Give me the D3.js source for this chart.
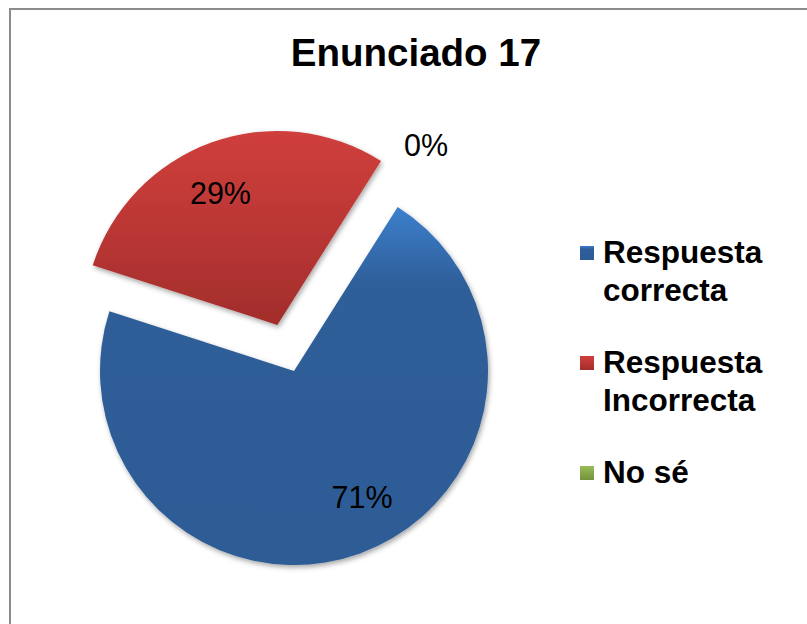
<!DOCTYPE html>
<html>
<head>
<meta charset="utf-8">
<script src="https://cdn.jsdelivr.net/npm/d3@7"></script>
<style>
  html, body { margin: 0; padding: 0; background: #fff; }
  svg { display: block; }
  text { font-family: "Liberation Sans", Arial, sans-serif; fill: #000; }
</style>
</head>
<body>
<svg id="chart" width="807" height="624"></svg>
<script>
// ---- data ----
const title = "Enunciado 17";
const categories = ["Respuesta correcta", "Respuesta Incorrecta", "No sé"];
const legendLines = [["Respuesta", "correcta"], ["Respuesta", "Incorrecta"], ["No sé"]];
const values = [71, 29, 0];
const labels = ["71%", "29%", "0%"];
const exploded = [false, true, false];

// ---- styles ----
const colorsTop = ["#3c7fcc", "#cf3f3c", "#9bbb59"];
const colorsMid = ["#2e5e99", "#bb3735", "#86a64a"];
const colorsBot = ["#2d5b95", "#a22d2b", "#76923c"];

const svg = d3.select("#chart");
const defs = svg.append("defs");

const f = defs.append("filter").attr("id", "shadow")
  .attr("x", "-20%").attr("y", "-20%").attr("width", "140%").attr("height", "140%");
f.append("feDropShadow").attr("dx", 1.5).attr("dy", 2.5).attr("stdDeviation", 2.5)
  .attr("flood-color", "#000").attr("flood-opacity", 0.35);

categories.forEach((c, i) => {
  const g = defs.append("linearGradient").attr("id", "grad" + i)
    .attr("x1", 0).attr("y1", 0).attr("x2", 0).attr("y2", 1);
  g.append("stop").attr("offset", 0).attr("stop-color", colorsTop[i]);
  g.append("stop").attr("offset", i === 0 ? 0.22 : 0.5).attr("stop-color", colorsMid[i]);
  g.append("stop").attr("offset", 1).attr("stop-color", colorsBot[i]);
});

// frame
svg.append("rect").attr("x", 10).attr("y", 9).attr("width", 900).attr("height", 700)
  .attr("fill", "none").attr("stroke", "#8c8c8c").attr("stroke-width", 2);

// title
svg.append("text").attr("x", 416).attr("y", 66).attr("text-anchor", "middle")
  .style("font-size", "38.5px").style("font-weight", "bold").text(title);

// pie
const cx = 294, cy = 371, R = 194, explodeDist = 49;
const startDeg = 32.3;
const pie = d3.pie().sort(null).value(d => d)
  .startAngle(startDeg * Math.PI / 180)
  .endAngle((startDeg + 360) * Math.PI / 180);
const arcs = pie(values);
const arc = d3.arc().innerRadius(0).outerRadius(R);

const offset = (d, i) => {
  if (!exploded[i]) return [0, 0];
  const a = (d.startAngle + d.endAngle) / 2;
  return [explodeDist * Math.sin(a), -explodeDist * Math.cos(a)];
};

const pg = svg.append("g").attr("transform", `translate(${cx},${cy})`);
pg.selectAll("path.slice").data(arcs).join("path")
  .attr("class", "slice")
  .attr("d", arc)
  .attr("transform", (d, i) => { const o = offset(d, i); return `translate(${o[0]},${o[1]})`; })
  .attr("fill", (d, i) => `url(#grad${i})`)
  .attr("filter", "url(#shadow)")
  .style("display", d => d.value > 0 ? null : "none");

// data labels (best-fit style placement: slightly before the bisector)
const labelR = R * 0.74, outerR = R * 1.35;
const labelPos = (d) => {
  const span = d.endAngle - d.startAngle;
  const a = d.value > 0 ? d.startAngle + span * 0.467 : d.startAngle - 2 * Math.PI / 180;
  const r = d.value > 0 ? labelR : outerR;
  return [r * Math.sin(a), -r * Math.cos(a)];
};
pg.selectAll("text.lbl").data(arcs).join("text")
  .attr("class", "lbl")
  .attr("text-anchor", "middle")
  .attr("dy", "0.35em")
  .attr("transform", (d, i) => {
    const o = offset(d, i);
    const p = labelPos(d);
    return `translate(${p[0] + o[0]},${p[1] + o[1]})`;
  })
  .style("font-size", "30.5px")
  .text((d, i) => labels[i]);

// legend
const lx = 580, ly0 = 263, itemStep = 110, lineStep = 38, sw = 14;
const lg = svg.append("g");
const items = lg.selectAll("g.item").data(categories).join("g")
  .attr("class", "item")
  .attr("transform", (d, i) => `translate(${lx},${ly0 + i * itemStep})`);
items.append("rect").attr("x", 0).attr("y", -17).attr("width", sw).attr("height", sw)
  .attr("fill", (d, i) => `url(#grad${i})`);
items.each(function(d, i) {
  const g = d3.select(this);
  legendLines[i].forEach((line, j) => {
    g.append("text").attr("x", 23).attr("y", j * lineStep)
      .style("font-size", "31.5px").style("font-weight", "bold").text(line);
  });
});
</script>
</body>
</html>
